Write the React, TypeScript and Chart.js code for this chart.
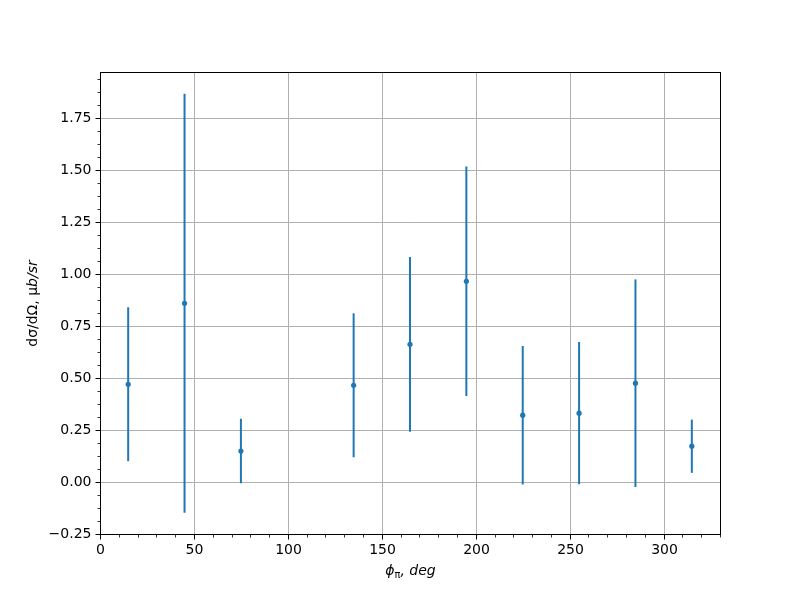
import React, { useEffect, useRef } from "react";
import { Chart, registerables } from "chart.js";

Chart.register(...registerables);

const phiDeg = [15, 45, 75, 135, 165, 195, 225, 255, 285, 315];
const crossSection = [0.47, 0.859, 0.149, 0.465, 0.662, 0.965, 0.321, 0.331, 0.475, 0.172];
const crossSectionErr = [0.37, 1.007, 0.155, 0.346, 0.42, 0.552, 0.333, 0.342, 0.499, 0.128];

const xMajorTicks = [0, 50, 100, 150, 200, 250, 300];
const yMajorTicks = [-0.25, 0, 0.25, 0.5, 0.75, 1.0, 1.25, 1.5, 1.75];

const X_MIN = 0;
const X_MAX = 330;
const Y_MIN = -0.25;
const Y_MAX = 1.971;

const BLUE = "#1f77b4";
const FONT = "DejaVu Sans";

type Seg = { t: string; italic?: boolean; sub?: boolean };

function drawRich(ctx: CanvasRenderingContext2D, segs: Seg[], size: number) {
  let x = 0;
  for (const s of segs) {
    const fs = s.sub ? size * 0.7 : size;
    ctx.font = `${s.italic ? "italic " : ""}${fs}px "${FONT}"`;
    ctx.fillText(s.t, x, s.sub ? size * 0.22 : 0);
    x += ctx.measureText(s.t).width;
  }
  return x;
}

function measureRich(ctx: CanvasRenderingContext2D, segs: Seg[], size: number) {
  let x = 0;
  for (const s of segs) {
    const fs = s.sub ? size * 0.7 : size;
    ctx.font = `${s.italic ? "italic " : ""}${fs}px "${FONT}"`;
    x += ctx.measureText(s.t).width;
  }
  return x;
}

const xLabel: Seg[] = [
  { t: "ϕ", italic: true },
  { t: "π", sub: true },
  { t: ", ", italic: true },
  { t: "deg", italic: true },
];
const yLabel: Seg[] = [
  { t: "dσ/dΩ, " },
  { t: "μ" },
  { t: "b/sr", italic: true },
];

const overlayPlugin = {
  id: "overlay",
  afterDatasetsDraw(chart: any) {
    const ctx = chart.ctx as CanvasRenderingContext2D;
    const xs = chart.scales.x;
    const ys = chart.scales.y;
    ctx.save();
    ctx.strokeStyle = BLUE;
    ctx.lineWidth = 2;
    for (let i = 0; i < phiDeg.length; i++) {
      const px = xs.getPixelForValue(phiDeg[i]) - 0.5;
      const y1 = ys.getPixelForValue(crossSection[i] + crossSectionErr[i]) - 0.5;
      const y2 = ys.getPixelForValue(crossSection[i] - crossSectionErr[i]) - 0.5;
      ctx.beginPath();
      ctx.moveTo(px, y1);
      ctx.lineTo(px, y2);
      ctx.stroke();
    }
    ctx.fillStyle = BLUE;
    for (let i = 0; i < phiDeg.length; i++) {
      const px = xs.getPixelForValue(phiDeg[i]) - 0.5;
      const py = ys.getPixelForValue(crossSection[i]) - 0.5;
      ctx.beginPath();
      ctx.arc(px, py, 2.6, 0, Math.PI * 2);
      ctx.fill();
    }
    ctx.restore();
  },
  afterDraw(chart: any) {
    const ctx = chart.ctx as CanvasRenderingContext2D;
    const a = chart.chartArea;
    const xs = chart.scales.x;
    const ys = chart.scales.y;
    const L = Math.floor(a.left) + 0.5;
    const R = Math.floor(a.right) + 0.5;
    const T = Math.floor(a.top) + 0.5;
    const B = Math.floor(a.bottom) + 0.5;
    const xp = (v: number) => Math.round(xs.getPixelForValue(v) - 0.5) + 0.5;
    const yp = (v: number) => Math.round(ys.getPixelForValue(v) - 0.5) + 0.5;
    ctx.save();
    ctx.strokeStyle = "#000";
    ctx.lineWidth = 1;
    ctx.strokeRect(L, T, R - L, B - T);
    ctx.beginPath();
    for (const v of xMajorTicks) {
      ctx.moveTo(xp(v), B);
      ctx.lineTo(xp(v), B + 5);
    }
    for (const v of yMajorTicks) {
      ctx.moveTo(L, yp(v));
      ctx.lineTo(L - 5, yp(v));
    }
    ctx.stroke();
    ctx.lineWidth = 0.8;
    ctx.beginPath();
    for (let v = X_MIN; v <= X_MAX + 1e-9; v += 10) {
      if (v % 50 === 0) continue;
      ctx.moveTo(xp(v), B);
      ctx.lineTo(xp(v), B + 3);
    }
    for (let v = Y_MIN; v <= Y_MAX + 1e-9; v += 0.0625) {
      if (Math.abs(v / 0.25 - Math.round(v / 0.25)) < 1e-6) continue;
      ctx.moveTo(L, yp(v));
      ctx.lineTo(L - 3, yp(v));
    }
    ctx.stroke();
    ctx.fillStyle = "#000";
    ctx.font = `14px "${FONT}"`;
    ctx.textAlign = "center";
    ctx.textBaseline = "top";
    for (const v of xMajorTicks) {
      ctx.fillText(String(v), xp(v), B + 9);
    }
    ctx.textAlign = "right";
    ctx.textBaseline = "middle";
    for (const v of yMajorTicks) {
      const s = v < 0 ? "\u2212" + Math.abs(v).toFixed(2) : v.toFixed(2);
      ctx.fillText(s, L - 9, yp(v));
    }
    ctx.textAlign = "left";
    ctx.textBaseline = "alphabetic";
    const size = 14;
    const wx = measureRich(ctx, xLabel, size);
    ctx.save();
    ctx.translate((L + R) / 2 - wx / 2, 575);
    drawRich(ctx, xLabel, size);
    ctx.restore();
    const wy = measureRich(ctx, yLabel, size);
    ctx.save();
    ctx.translate(37, (T + B) / 2 + wy / 2);
    ctx.rotate(-Math.PI / 2);
    drawRich(ctx, yLabel, size);
    ctx.restore();
    ctx.restore();
  },
};

export default function App() {
  const ref = useRef<HTMLCanvasElement | null>(null);
  useEffect(() => {
    document.body.style.margin = "0";
    const canvas = ref.current!;
    const chart = new Chart(canvas, {
      type: "scatter",
      data: {
        datasets: [
          {
            data: phiDeg.map((x, i) => ({ x, y: crossSection[i] })),
            pointRadius: 0,
            pointHoverRadius: 0,
            backgroundColor: BLUE,
            borderColor: BLUE,
          },
        ],
      },
      options: {
        animation: false,
        responsive: false,
        events: [],
        layout: { padding: { top: 72.5, right: 79.5, left: 0.5, bottom: 0 } },
        plugins: { legend: { display: false }, tooltip: { enabled: false } },
        scales: {
          x: {
            type: "linear",
            min: X_MIN,
            max: X_MAX,
            afterFit(scale: any) {
              scale.height = 65.5;
            },
            afterBuildTicks(scale: any) {
              scale.ticks = xMajorTicks.map((v) => ({ value: v }));
            },
            ticks: { display: false },
            border: { display: false },
            grid: { color: "#b0b0b0", lineWidth: 1, drawTicks: false },
          },
          y: {
            type: "linear",
            min: Y_MIN,
            max: Y_MAX,
            afterFit(scale: any) {
              scale.width = 100;
            },
            afterBuildTicks(scale: any) {
              scale.ticks = yMajorTicks.map((v) => ({ value: v }));
            },
            ticks: { display: false },
            border: { display: false },
            grid: { color: "#b0b0b0", lineWidth: 1, drawTicks: false },
          },
        },
      },
      plugins: [overlayPlugin],
    });
    return () => chart.destroy();
  }, []);
  return (
    <div style={{ position: "absolute", left: 0, top: 0, width: 800, height: 600, background: "#fff" }}>
      <canvas ref={ref} width={800} height={600} style={{ width: 800, height: 600 }} />
    </div>
  );
}
